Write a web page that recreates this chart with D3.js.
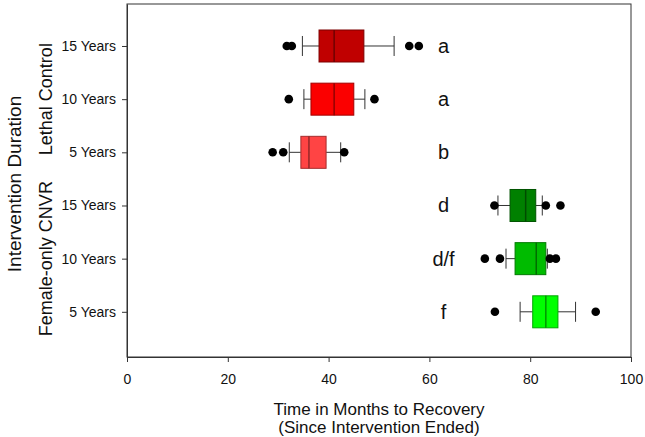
<!DOCTYPE html>
<html>
<head>
<meta charset="utf-8">
<title>Time to recovery</title>
<script src="https://d3js.org/d3.v7.min.js"></script>
<style>
  body { margin: 0; background: #fff; }
  svg { font-family: "Liberation Sans", Arial, sans-serif; }
</style>
</head>
<body>
<script>
// rows from top to bottom
var groups = ["Lethal Control", "Lethal Control", "Lethal Control",
              "Female-only CNVR", "Female-only CNVR", "Female-only CNVR"];
var durations = ["15 Years", "10 Years", "5 Years", "15 Years", "10 Years", "5 Years"];
var whiskerLow = [34.8, 35.1, 32.2, 73.6, 75.2, 78.0];
var q1 = [38.1, 36.5, 34.5, 76.0, 77.0, 80.5];
var median = [41.1, 41.1, 36.1, 79.1, 81.2, 83.1];
var q3 = [47.0, 45.0, 39.5, 81.1, 83.1, 85.5];
var whiskerHigh = [53.0, 47.2, 42.4, 82.4, 83.4, 89.0];
var outliers = [
  [31.7, 32.7, 56.0, 57.9],
  [32.1, 49.1],
  [28.9, 31.0, 43.1],
  [72.9, 83.1, 86.0],
  [71.0, 74.0, 83.9, 85.1],
  [73.0, 93.0]
];
var letters = ["a", "a", "b", "d", "d/f", "f"];
var xTicks = [0, 20, 40, 60, 80, 100];
var colors = ["#c00000", "#fb0000", "#ff4444", "#008000", "#00bb00", "#00ff00"];

var W = 645, H = 437;
var margin = { left: 127, right: 631, top: 4, bottom: 357 };

var svg = d3.select("body").append("svg")
    .attr("width", W)
    .attr("height", H);

var x = d3.scaleLinear().domain([0, 100]).range([margin.left, margin.right]);
// row i sits at position 6 - i
var y = d3.scaleLinear().domain([0.15, 6.79]).range([margin.bottom, margin.top]);
var pos = function(i) { return y(durations.length - i); };

var boxH = 32, capH = 20;
var ink = "#333";

// frame
svg.append("rect")
    .attr("x", margin.left).attr("y", margin.top)
    .attr("width", margin.right - margin.left).attr("height", margin.bottom - margin.top)
    .attr("fill", "none").attr("stroke", ink).attr("stroke-width", 1);

// x axis
var xAxis = svg.append("g")
    .attr("transform", "translate(0," + margin.bottom + ")")
    .call(d3.axisBottom(x).tickValues(xTicks).tickSize(5).tickPadding(12).tickSizeOuter(0));
xAxis.select(".domain").attr("stroke", ink);
xAxis.selectAll(".tick line").attr("stroke", ink);
xAxis.selectAll("text").attr("font-size", 14).attr("fill", "#111")
    .attr("font-family", "Liberation Sans, Arial, sans-serif");

// y axis
var yAxis = svg.append("g")
    .attr("transform", "translate(" + margin.left + ",0)")
    .call(d3.axisLeft(y).tickValues(d3.range(1, 7)).tickSize(5).tickPadding(6).tickSizeOuter(0)
      .tickFormat(function(d) { return durations[durations.length - d]; }));
yAxis.select(".domain").attr("stroke", ink);
yAxis.selectAll(".tick line").attr("stroke", ink);
yAxis.selectAll("text").attr("font-size", 14).attr("fill", "#111")
    .attr("font-family", "Liberation Sans, Arial, sans-serif");

// boxes
var rows = svg.selectAll(".row")
    .data(durations)
    .enter()
    .append("g")
    .attr("class", "row");

rows.append("line")
    .attr("x1", function(d, i) { return x(whiskerLow[i]); })
    .attr("x2", function(d, i) { return x(q1[i]); })
    .attr("y1", function(d, i) { return pos(i); })
    .attr("y2", function(d, i) { return pos(i); })
    .attr("stroke", ink);
rows.append("line")
    .attr("x1", function(d, i) { return x(q3[i]); })
    .attr("x2", function(d, i) { return x(whiskerHigh[i]); })
    .attr("y1", function(d, i) { return pos(i); })
    .attr("y2", function(d, i) { return pos(i); })
    .attr("stroke", ink);
rows.append("line")
    .attr("x1", function(d, i) { return x(whiskerLow[i]); })
    .attr("x2", function(d, i) { return x(whiskerLow[i]); })
    .attr("y1", function(d, i) { return pos(i) - capH / 2; })
    .attr("y2", function(d, i) { return pos(i) + capH / 2; })
    .attr("stroke", ink);
rows.append("line")
    .attr("x1", function(d, i) { return x(whiskerHigh[i]); })
    .attr("x2", function(d, i) { return x(whiskerHigh[i]); })
    .attr("y1", function(d, i) { return pos(i) - capH / 2; })
    .attr("y2", function(d, i) { return pos(i) + capH / 2; })
    .attr("stroke", ink);

rows.append("rect")
    .attr("x", function(d, i) { return x(q1[i]); })
    .attr("y", function(d, i) { return pos(i) - boxH / 2; })
    .attr("width", function(d, i) { return x(q3[i]) - x(q1[i]); })
    .attr("height", boxH)
    .attr("fill", function(d, i) { return colors[i]; })
    .attr("stroke", function(d, i) { return d3.color(colors[i]).darker(1.2); })
    .attr("stroke-width", 1);

rows.append("line")
    .attr("x1", function(d, i) { return x(median[i]); })
    .attr("x2", function(d, i) { return x(median[i]); })
    .attr("y1", function(d, i) { return pos(i) - boxH / 2; })
    .attr("y2", function(d, i) { return pos(i) + boxH / 2; })
    .attr("stroke", function(d, i) { return d3.color(colors[i]).darker(1.5); })
    .attr("stroke-width", 1.5);

rows.each(function(d, i) {
  d3.select(this).selectAll("circle")
    .data(outliers[i])
    .enter()
    .append("circle")
    .attr("cx", function(v) { return x(v); })
    .attr("cy", pos(i))
    .attr("r", 4.3)
    .attr("fill", "#000");
});

// significance letters
rows.append("text")
    .attr("x", x(62.8))
    .attr("y", function(d, i) { return pos(i); })
    .attr("dy", "0.35em")
    .attr("text-anchor", "middle")
    .attr("font-size", 20)
    .attr("fill", "#111")
    .text(function(d, i) { return letters[i]; });

// group labels
var groupNames = ["Lethal Control", "Female-only CNVR"];
groupNames.forEach(function(g) {
  var idx = groups.map(function(v, i) { return v === g ? i : -1; }).filter(function(i) { return i >= 0; });
  var cy = d3.mean(idx, function(i) { return pos(i); });
  svg.append("text")
      .attr("transform", "translate(46," + cy + ") rotate(-90)")
      .attr("dy", "0.35em")
      .attr("text-anchor", "middle")
      .attr("font-size", 18)
      .attr("fill", "#111")
      .text(g);
});

svg.append("text")
    .attr("transform", "translate(14,184) rotate(-90)")
    .attr("dy", "0.35em")
    .attr("text-anchor", "middle")
    .attr("font-size", 19)
    .attr("fill", "#111")
    .text("Intervention Duration");

var cx = (margin.left + margin.right) / 2;
svg.append("text")
    .attr("x", cx).attr("y", 415)
    .attr("text-anchor", "middle")
    .attr("font-size", 17)
    .attr("fill", "#111")
    .text("Time in Months to Recovery");
svg.append("text")
    .attr("x", cx).attr("y", 433)
    .attr("text-anchor", "middle")
    .attr("font-size", 17)
    .attr("fill", "#111")
    .text("(Since Intervention Ended)");
</script>
</body>
</html>
